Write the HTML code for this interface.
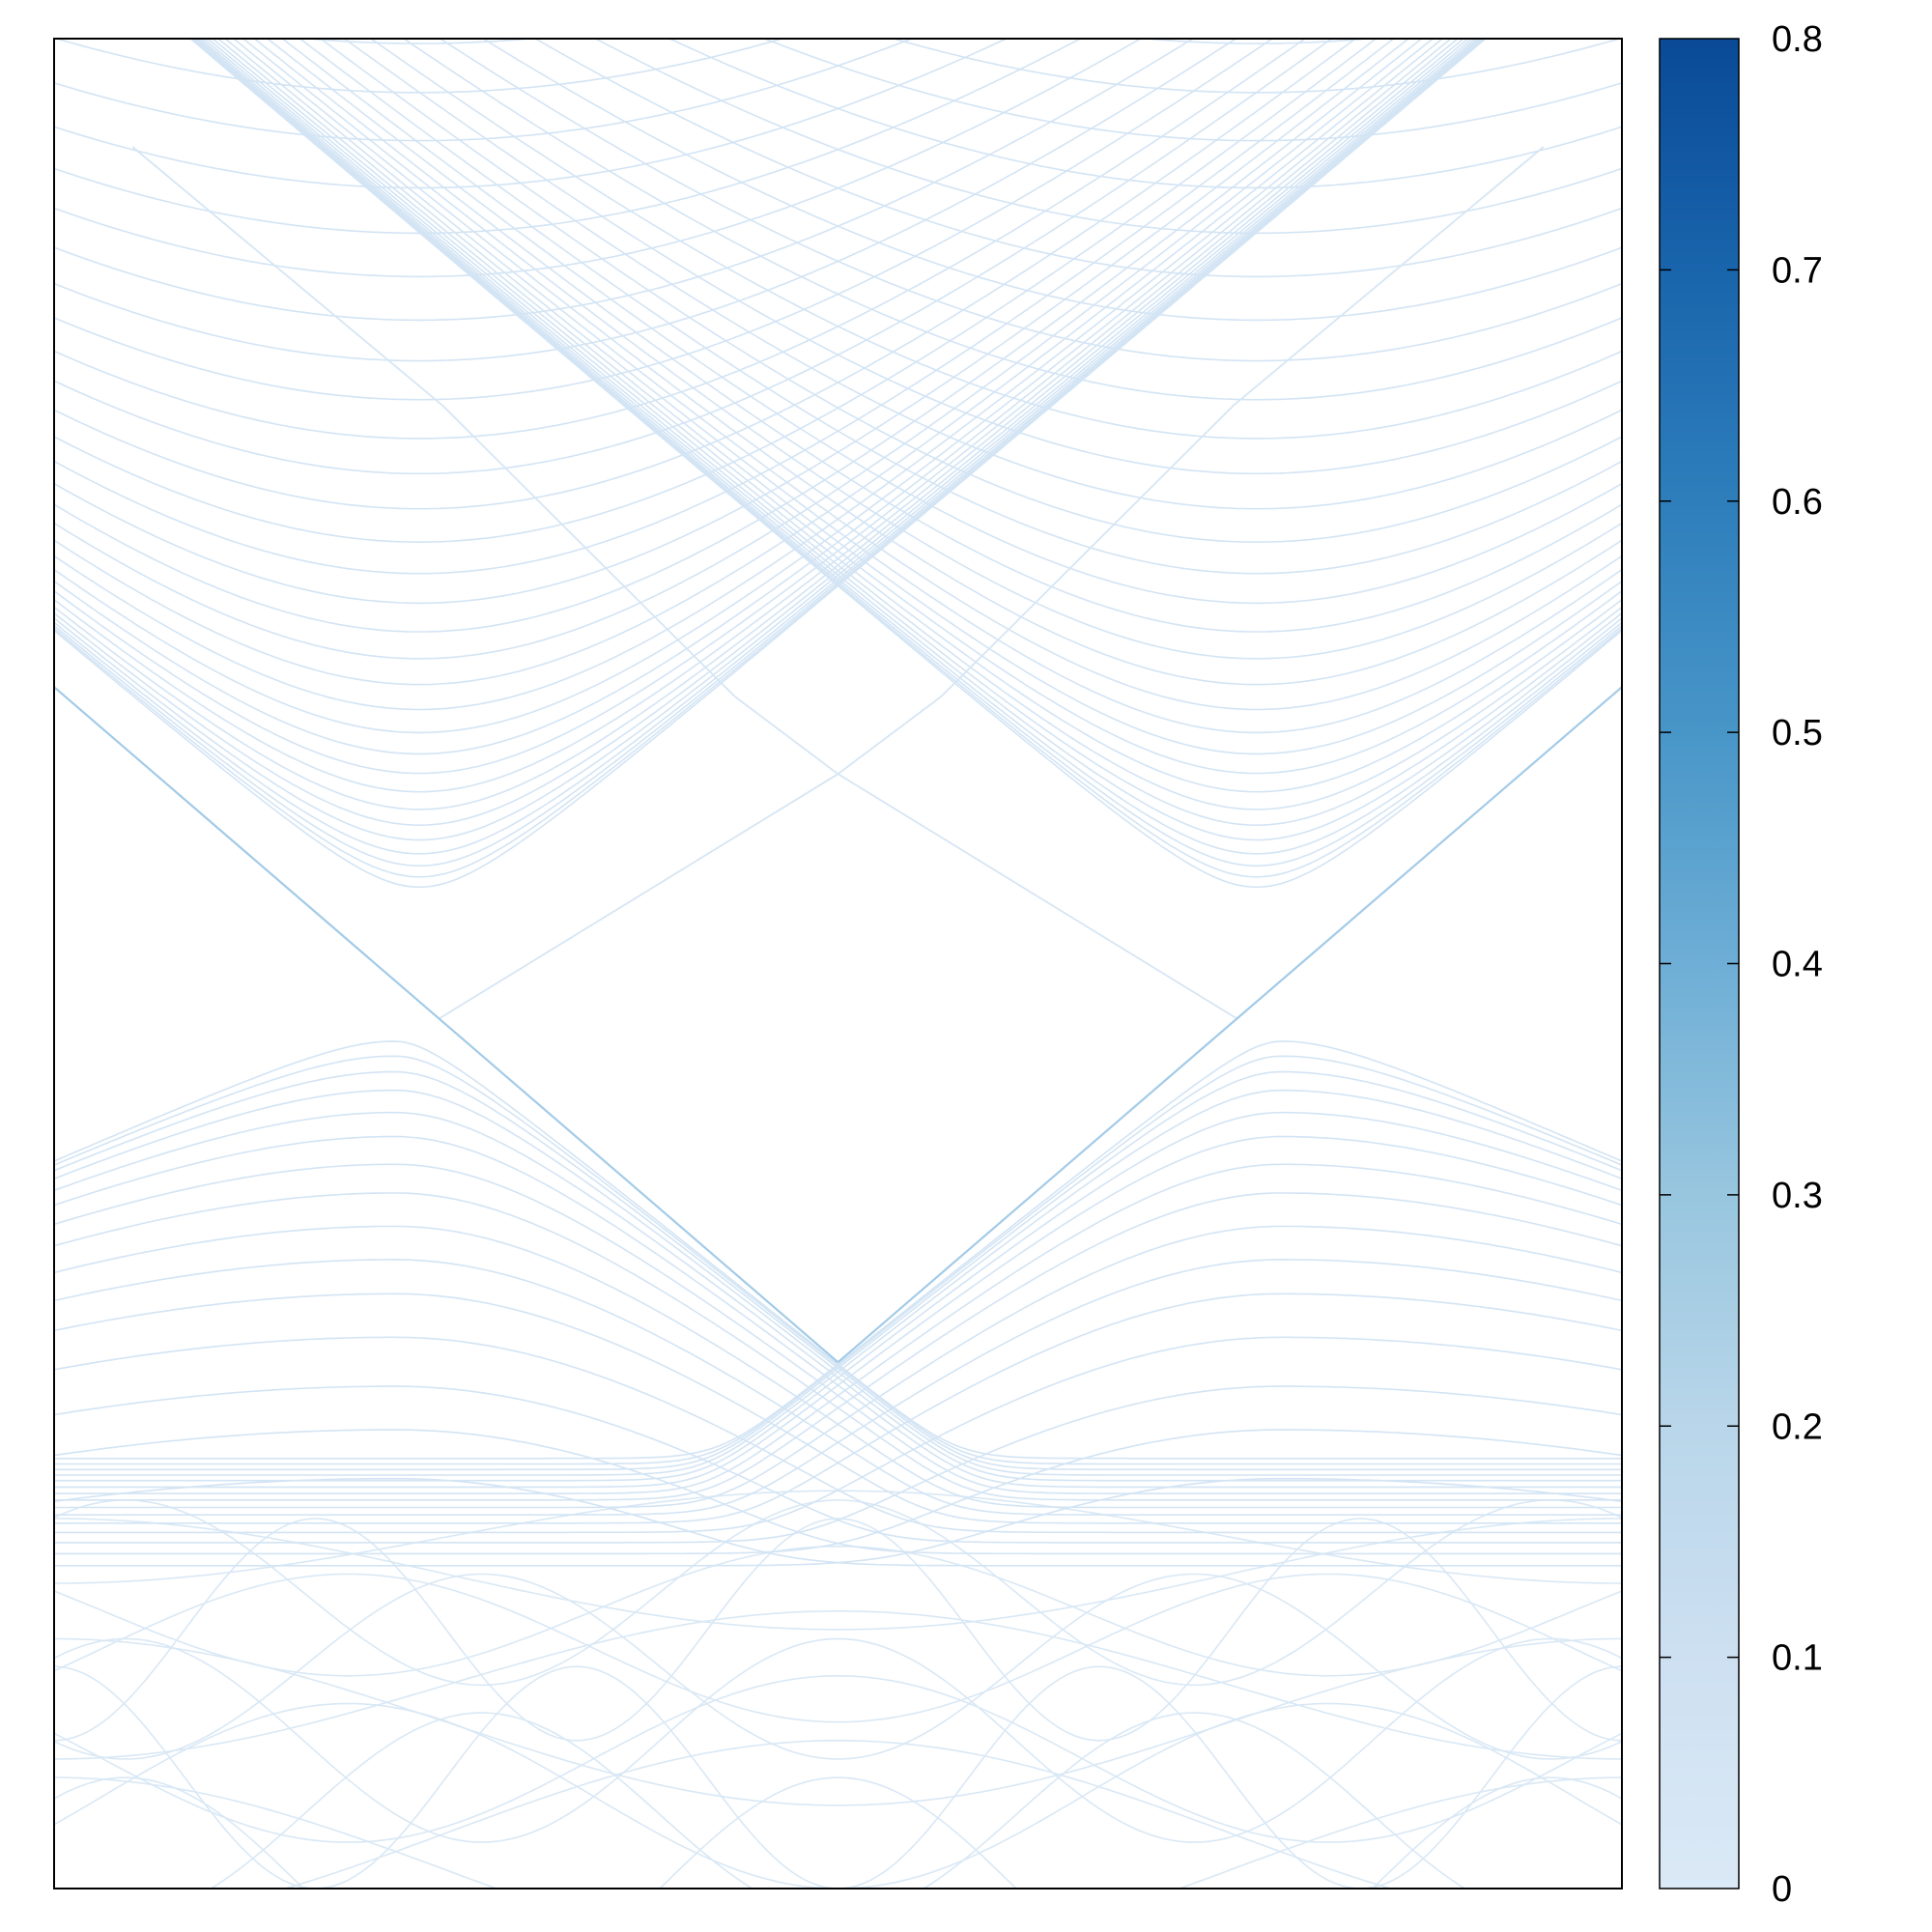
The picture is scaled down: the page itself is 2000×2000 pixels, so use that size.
<!DOCTYPE html>
<html><head><meta charset="utf-8"><style>
html,body{margin:0;padding:0;background:#fff;overflow:hidden;width:2000px;height:2000px;}
svg{display:block;}
text{font-family:"Liberation Sans",sans-serif;}
</style></head><body>
<svg id="chart" width="2000" height="2000" viewBox="0 0 2000 2000" xmlns="http://www.w3.org/2000/svg">
<defs>
<clipPath id="plotclip"><rect x="56" y="40" width="1623" height="1915"/></clipPath>
<linearGradient id="cbgrad" x1="0" y1="1" x2="0" y2="0">
<stop offset="0" stop-color="#dbe9f6"/>
<stop offset="0.125" stop-color="#cde0f1"/>
<stop offset="0.25" stop-color="#b9d6ea"/>
<stop offset="0.375" stop-color="#98c6df"/>
<stop offset="0.5" stop-color="#6eaed6"/>
<stop offset="0.625" stop-color="#4896c8"/>
<stop offset="0.75" stop-color="#2e7ebc"/>
<stop offset="0.875" stop-color="#1965ac"/>
<stop offset="1" stop-color="#0a4a97"/>
</linearGradient>
</defs>
<rect x="56" y="40" width="1623" height="1915" fill="#fff"/>
<g id="bands" clip-path="url(#plotclip)"></g>
<rect x="56" y="40" width="1623" height="1915" fill="none" stroke="#000" stroke-width="2"/>
<rect x="1718" y="40" width="82" height="1915" fill="url(#cbgrad)" stroke="#000" stroke-width="1.5"/>
<g id="cbticks"></g>
</svg>
<script>
// ---- data ----
const upperCenterK = 0.233;
const upperOffset = 0.0187;
const upperSlope = 1.44;
const upperGaps = [0.064,0.075,0.087,0.1,0.115,0.131,0.148,0.167,0.187,0.208,0.231,0.256,0.283,0.311,0.34,0.371,0.403,0.437,0.473,0.511,0.549,0.591,0.633,0.677,0.724,0.771,0.82,0.871,0.923,0.976];
const lowerCenterK = 0.217;
const lowerOffset = -0.048;
const lowerSlopeLeft = 0.745;
const lowerSlopeRight = 1.355;
const lowerGaps = [0.036,0.052,0.069,0.089,0.113,0.139,0.169,0.2,0.236,0.272,0.309,0.356,0.409,0.456,0.509];
const lowerFloors = [-0.535,-0.541,-0.547,-0.553,-0.559,-0.566,-0.573,-0.58,-0.588,-0.596,-0.605,-0.615,-0.626,-0.638,-0.651];
const bottomBase = [-0.62,-0.66,-0.7,-0.74,-0.78,-0.82,-0.86,-0.9,-0.94,-0.98,-0.68,-0.76,-0.84,-0.92,-1.0,-0.72,-0.88];
const bottomAmp = [0.05,-0.06,0.07,-0.08,0.08,-0.09,0.09,-0.1,0.1,-0.1,0.1,-0.1,0.11,-0.11,0.12,0.12,-0.12];
const bottomFreq = [1,1,1.6,1.6,1,1,1.6,1.6,1,1,2.2,2.2,2.2,2.2,2.2,3,3];
const edgeDarkK = [0, 0.5];
const edgeDarkE = [0.299, -0.431];
const edgeLightK = [0.246, 0.5, 0.566, 0.752, 0.95];
const edgeLightE = [-0.059, 0.205, 0.289, 0.603, 0.883];
const cbTicks = [0,0.1,0.2,0.3,0.4,0.5,0.6,0.7,0.8];
const cbLabels = ["0","0.1","0.2","0.3","0.4","0.5","0.6","0.7","0.8"];

// ---- axes ----
const X0=56, W=1623, Y0=40, H=1915;
function xS(k){return X0+k*W;}
function yS(E){return Y0+(1-E)/2*H;}
function cbY(v){return 1955 - v/0.8*1915;}

const NS="http://www.w3.org/2000/svg";
const g=document.getElementById('bands');
function drawPath(pts, color, width, name){
  let d='';
  pts.forEach((p,i)=>{d+=(i?'L':'M')+xS(p[0]).toFixed(1)+','+yS(p[1]).toFixed(1);});
  const el=document.createElementNS(NS,'path');
  el.setAttribute('d',d);
  el.setAttribute('fill','none');
  el.setAttribute('stroke',color);
  el.setAttribute('stroke-width',width);
  
  
  g.appendChild(el);
}
const N=240;
function smax(a,b,w){const m=Math.max(a,b);return m+w*Math.log(Math.exp((a-m)/w)+Math.exp((b-m)/w));}
const LC='#d3e4f4';
bottomBase.forEach((b,i)=>{
  const pts=[];
  for(let j=0;j<=N;j++){const k=j/N;pts.push([k,b+bottomAmp[i]*Math.cos(2*Math.PI*bottomFreq[i]*(k-0.5))]);}
  drawPath(pts,'#d9e8f5',1.6,'bottom-band');
});
upperGaps.forEach((a)=>{
  [upperCenterK,1-upperCenterK].forEach(k0=>{
    const pts=[];
    for(let j=0;j<=N;j++){const k=j/N;const dk=k-k0;pts.push([k,upperOffset+Math.sqrt(a*a+upperSlope*upperSlope*dk*dk)]);}
    drawPath(pts,LC,1.6,'conduction-band');
  });
});
lowerGaps.forEach((a,i)=>{
  [0,1].forEach(side=>{
    const pts=[];
    for(let j=0;j<=N;j++){
      const k=j/N;
      const kk=side?1-k:k;
      const dk=kk-lowerCenterK;
      const s=dk<0?lowerSlopeLeft:lowerSlopeRight;
      const e=lowerOffset-Math.sqrt(a*a+s*s*dk*dk);
      pts.push([k,smax(e,lowerFloors[i],0.02)]);
    }
    drawPath(pts,LC,1.6,'valence-band');
  });
});
[0,1].forEach(side=>{
  drawPath(edgeLightK.map((k,i)=>[side?1-k:k,edgeLightE[i]]),'#d6e6f4',1.8,'edge-state-light');
  drawPath(edgeDarkK.map((k,i)=>[side?1-k:k,edgeDarkE[i]]),'#a3cbe7',2.2,'edge-state-dark');
});
const tg=document.getElementById('cbticks');
cbTicks.forEach((v,i)=>{
  const y=cbY(v);
  if(i>0&&i<cbTicks.length-1){
    [[1718,1730],[1788,1800]].forEach(xx=>{
      const l=document.createElementNS(NS,'line');
      l.setAttribute('x1',xx[0]);l.setAttribute('x2',xx[1]);
      l.setAttribute('y1',y);l.setAttribute('y2',y);
      l.setAttribute('stroke','#000');l.setAttribute('stroke-width','1.5');
      
      
      tg.appendChild(l);
    });
  }
  const t=document.createElementNS(NS,'text');
  t.setAttribute('x',1834);t.setAttribute('y',y+13);
  t.setAttribute('font-size','38');t.setAttribute('fill','#000');
  t.textContent=cbLabels[i];
  
  
  tg.appendChild(t);
});
</script>
</body></html>
